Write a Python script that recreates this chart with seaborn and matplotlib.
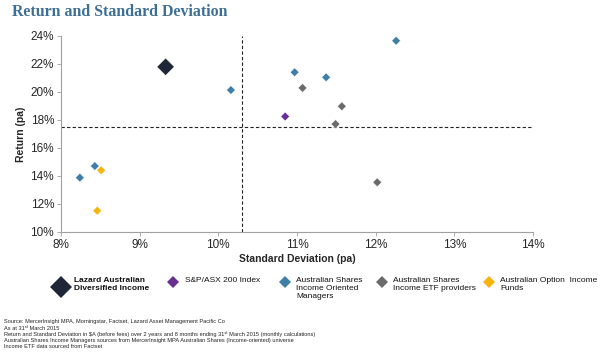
import matplotlib
matplotlib.use("Agg")
import matplotlib.pyplot as plt
import seaborn as sns
import pandas as pd
from matplotlib.lines import Line2D
from matplotlib.ticker import FuncFormatter

# -------------------- DATA --------------------
lazard_sd = [9.33]
lazard_ret = [21.8]

asx_sd = [10.85]
asx_ret = [18.25]

managers_sd = [12.26, 10.97, 11.37, 10.16, 8.43, 8.24]
managers_ret = [23.66, 21.41, 21.05, 20.14, 14.71, 13.88]

etf_sd = [11.07, 11.57, 11.49, 12.02]
etf_ret = [20.29, 18.98, 17.71, 13.55]

option_sd = [8.51, 8.46]
option_ret = [14.41, 11.52]

avg_sd = 10.30
avg_ret = 17.5

group_names = ["Lazard Australian\nDiversified Income", "S&P/ASX 200 Index",
               "Australian Shares\nIncome Oriented\nManagers",
               "Australian Shares\nIncome ETF providers",
               "Australian Option  Income\nFunds"]
group_colors = ["#1e2638", "#6a2d91", "#3f7ea6", "#6b6b6b", "#f6b40e"]

footnotes = [
    "Source: MercerInsight MPA, Morningstar, Factset, Lazard Asset Management Pacific Co",
    "As at 31ˢᵗ March 2015",
    "Return and Standard Deviation in $A (before fees) over 2 years and 8 months ending 31ˢᵗ March 2015 (monthly calculations)",
    "Australian Shares Income Managers sources from MercerInsight MPA Australian Shares (Income-oriented) universe",
    "Income ETF data sourced from Factset",
]

# -------------------- BUILD TABLE --------------------
sd_lists = [lazard_sd, asx_sd, managers_sd, etf_sd, option_sd]
ret_lists = [lazard_ret, asx_ret, managers_ret, etf_ret, option_ret]
rows = []
for name, sds, rets in zip(group_names, sd_lists, ret_lists):
    for s, r in zip(sds, rets):
        rows.append({"sd": s, "ret": r, "group": name})
df = pd.DataFrame(rows)

sns.set_theme(style="white")
plt.rcParams["font.family"] = ["Liberation Sans", "DejaVu Sans"]

W, H = 600, 357
fig = plt.figure(figsize=(6, 3.57), dpi=100)
ax = fig.add_axes([61 / W, 1 - 232 / H, 472 / W, 196 / H])

palette = dict(zip(group_names, group_colors))
sizes = {n: 20 for n in group_names}
sizes[group_names[0]] = 78
sns.scatterplot(data=df, x="sd", y="ret", hue="group", palette=palette,
                size="group", sizes=sizes, marker="D", linewidth=0.3,
                edgecolor="white", legend=False, ax=ax, zorder=3)

ax.axvline(avg_sd, color="#222222", linestyle=(0, (3, 2)), linewidth=0.8, zorder=1)
ax.axhline(avg_ret, color="#222222", linestyle=(0, (3, 2)), linewidth=0.8, zorder=1)

ax.set_xlim(8, 14)
ax.set_ylim(10, 24)
ax.set_xticks(range(8, 15))
ax.set_yticks(range(10, 25, 2))
pct = FuncFormatter(lambda v, p: f"{v:.0f}%")
ax.xaxis.set_major_formatter(pct)
ax.yaxis.set_major_formatter(pct)
ax.tick_params(axis="both", labelsize=8.5, length=3, width=0.6,
               color="#a0a0a0", pad=2, direction="out", bottom=True, left=True)

sns.despine(ax=ax)
for side in ["left", "bottom"]:
    ax.spines[side].set_color("#a0a0a0")
    ax.spines[side].set_linewidth(0.8)

ax.set_xlabel("Standard Deviation (pa)", fontsize=7.5, fontweight="bold", labelpad=2)
ax.set_ylabel("Return (pa)", fontsize=7.5, fontweight="bold", labelpad=3)

fig.text(12 / W, 1 - 12 / H, "Return and Standard Deviation", fontsize=11.4, fontweight="bold",
         family="Liberation Serif", color="#3d6f94", va="center")

# -------------------- LEGEND (drawn by hand to match layout) --------------------
marker_x = [61, 173, 285, 382, 489]
text_x = [74, 185, 296, 393, 500]
marker_y = [287, 281.5, 281.5, 281.5, 281.5]
for i, (n, c) in enumerate(zip(group_names, group_colors)):
    ms = 11.5 if i == 0 else 6
    fig.add_artist(Line2D([marker_x[i] / W], [1 - marker_y[i] / H], transform=fig.transFigure,
                          marker="D", linestyle="", color=c, markersize=ms, markeredgewidth=0))
    fig.text(text_x[i] / W, 1 - 277.5 / H, n, fontsize=6, va="top", ha="left",
             linespacing=1.17, color="#111111",
             fontweight="bold" if i == 0 else "normal")

# -------------------- FOOTNOTES --------------------
for i, line in enumerate(footnotes):
    fig.text(4 / W, 1 - (322 + i * 6.2) / H, line, fontsize=4.1, color="#222222",
             va="center", usetex=False, parse_math=False)

fig.savefig("out.png", dpi=100)
